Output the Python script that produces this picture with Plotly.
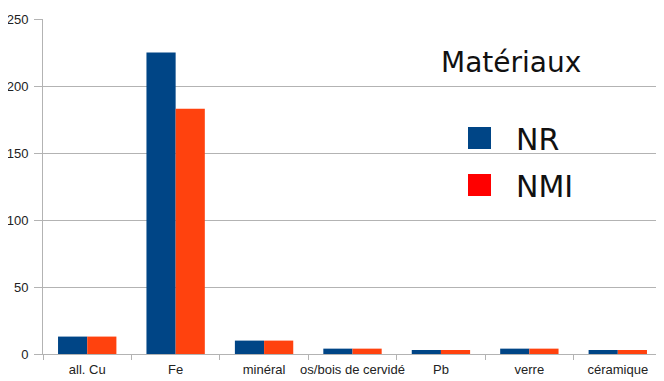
import plotly.graph_objects as go

categories = ["all. Cu", "Fe", "minéral", "os/bois de cervidé", "Pb", "verre", "céramique"]
nr_values = [13, 225, 10, 4, 3, 4, 3]
nmi_values = [13, 183, 10, 4, 3, 4, 3]
series_names = ["NR", "NMI"]
legend_title = "Matériaux"
y_ticks = [0, 50, 100, 150, 200, 250]

OFF = 8  # page body margin
W, H = 664 - OFF, 381 - OFF
# target positions in window pixels
L, R, T, B = 43, 662, 19, 354

def px(x):
    return (x - L) / (R - L)

def py(y):
    return (B - y) / (B - T)

fig = go.Figure()
fig.add_trace(go.Bar(x=categories, y=nr_values, name=series_names[0],
                     marker=dict(color="#004586", line=dict(width=0)), showlegend=False))
fig.add_trace(go.Bar(x=categories, y=nmi_values, name=series_names[1],
                     marker=dict(color="#ff420e", line=dict(width=0)), showlegend=False))

shapes = [
    dict(type="rect", xref="paper", yref="paper", x0=px(468), x1=px(491), y0=py(149), y1=py(127),
         fillcolor="#004586", line=dict(width=0)),
    dict(type="rect", xref="paper", yref="paper", x0=px(468), x1=px(491), y0=py(196), y1=py(174),
         fillcolor="#ff0000", line=dict(width=0)),
]
annotations = [
    dict(text=legend_title, xref="paper", yref="paper", x=px(439), y=py(62), xanchor="left",
         yanchor="middle", showarrow=False, font=dict(family="DejaVu Sans", size=28, color="#111111")),
    dict(text=series_names[0], xref="paper", yref="paper", x=px(514), y=py(139), xanchor="left",
         yanchor="middle", showarrow=False, font=dict(family="DejaVu Sans", size=30, color="#111111")),
    dict(text=series_names[1], xref="paper", yref="paper", x=px(514), y=py(186), xanchor="left",
         yanchor="middle", showarrow=False, font=dict(family="DejaVu Sans", size=30, color="#111111")),
]

fig.update_layout(
    width=W, height=H,
    margin=dict(l=L - OFF, r=W - (R - OFF), t=T - OFF, b=H - (B - OFF), pad=0),
    paper_bgcolor="white", plot_bgcolor="white",
    barmode="group", bargap=0.34, bargroupgap=0,
    shapes=shapes, annotations=annotations,
    font=dict(family="Liberation Sans", size=13, color="#222222"),
)
fig.update_xaxes(showgrid=False, showline=True, linecolor="#b3b3b3", linewidth=1,
                 ticks="outside", tickson="boundaries", ticklen=5, tickcolor="#b3b3b3",
                 tickangle=0, automargin=False, ticklabelstandoff=3,
                 tickfont=dict(size=13), fixedrange=True)
fig.update_yaxes(range=[0, 250], tickvals=y_ticks, showgrid=True, gridcolor="#b3b3b3",
                 gridwidth=1, showline=True, linecolor="#b3b3b3", linewidth=1,
                 ticks="outside", ticklen=8, tickcolor="#b3b3b3", zeroline=False,
                 automargin=False, ticklabelstandoff=3,
                 tickfont=dict(size=13), fixedrange=True)

fig.write_html("out.html")
